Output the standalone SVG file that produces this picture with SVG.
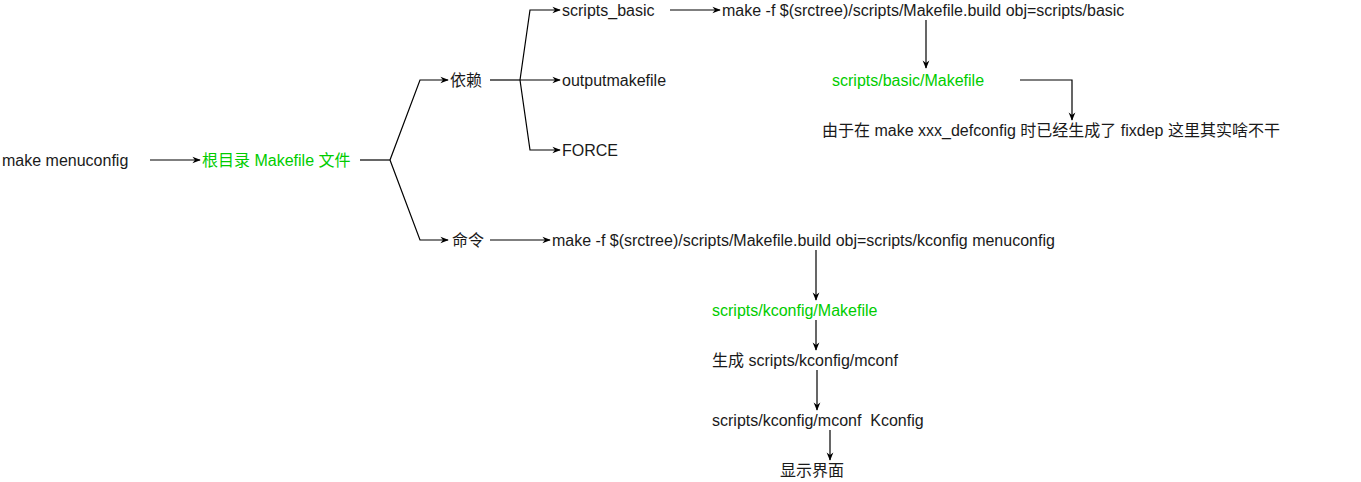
<svg xmlns="http://www.w3.org/2000/svg" width="1361" height="482" viewBox="0 0 1361 482">
<defs><marker id="a" viewBox="0 0 10 10" refX="9" refY="5" markerWidth="7" markerHeight="7" orient="auto"><path d="M0,1 L10,5 L0,9 L3,5 Z" fill="#000"/></marker></defs>
<style>text{font-family:"Liberation Sans",Arial,"Noto Sans CJK SC",sans-serif;font-size:16px;fill:#1a1a1a}.g{fill:#00cc00}.c{fill:none;stroke:#000;stroke-width:1.2}.m{marker-end:url(#a)}</style>
<rect width="1361" height="482" fill="#fff"/>
<g id="connectors">
<path class="c m" d="M150,160H200"/>
<path class="c" d="M360,160H390"/>
<path class="c m" d="M390,160L420,80H448"/>
<path class="c m" d="M390,160L420,240H448"/>
<path class="c" d="M490,80H520"/>
<path class="c m" d="M520,80L530,10H560"/>
<path class="c m" d="M520,80H560"/>
<path class="c m" d="M520,80L530,150H560"/>
<path class="c m" d="M670,10H720"/>
<path class="c m" d="M926,20V68"/>
<path class="c m" d="M1020,80H1072V120"/>
<path class="c m" d="M490,240H550"/>
<path class="c m" d="M816,250V300"/>
<path class="c m" d="M816,320V350"/>
<path class="c m" d="M817,370V410"/>
<path class="c m" d="M830,430V460"/>
</g>
<g id="n1"><text x="2" y="166">make menuconfig</text></g>
<g id="n2"><text class="g" x="202" y="166">根目录 Makefile 文件</text></g>
<g id="n3"><text x="450" y="86">依赖</text></g>
<g id="n4"><text x="452" y="246">命令</text></g>
<g id="n5"><text x="562" y="16">scripts_basic</text></g>
<g id="n6"><text x="562" y="86">outputmakefile</text></g>
<g id="n7"><text x="562" y="156">FORCE</text></g>
<g id="n8"><text x="722" y="16">make -f $(srctree)/scripts/Makefile.build obj=scripts/basic</text></g>
<g id="n9"><text class="g" x="832" y="86">scripts/basic/Makefile</text></g>
<g id="n10"><text x="822" y="136">由于在 make xxx_defconfig 时已经生成了 fixdep 这里其实啥不干</text></g>
<g id="n11"><text x="552" y="246">make -f $(srctree)/scripts/Makefile.build obj=scripts/kconfig menuconfig</text></g>
<g id="n12"><text class="g" x="712" y="316">scripts/kconfig/Makefile</text></g>
<g id="n13"><text x="712" y="366">生成 scripts/kconfig/mconf</text></g>
<g id="n14"><text x="712" y="426" xml:space="preserve">scripts/kconfig/mconf  Kconfig</text></g>
<g id="n15"><text x="780" y="476">显示界面</text></g>
</svg>
